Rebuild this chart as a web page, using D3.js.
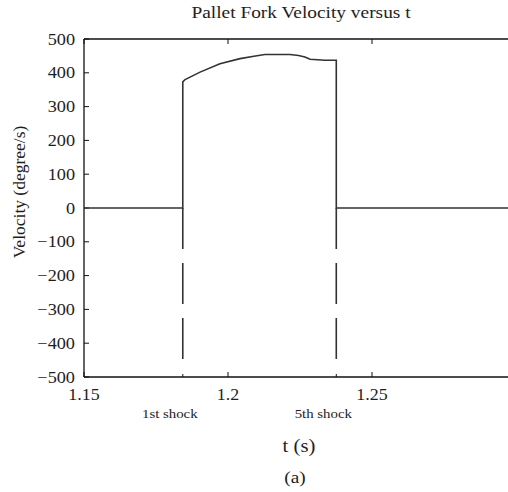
<!DOCTYPE html>
<html>
<head>
<meta charset="utf-8">
<script src="https://cdn.jsdelivr.net/npm/d3@7"></script>
<style>
html,body{margin:0;padding:0;background:#fff;}
svg{display:block;}
text{font-family:"Liberation Serif","DejaVu Serif",serif;fill:#1e1e1e;}
</style>
</head>
<body>
<svg id="chart" width="508" height="492"></svg>
<script>
// Data
const tValues = [1.15, 1.1843, 1.1843, 1.1851, 1.1903, 1.1972, 1.2042, 1.2090, 1.2128, 1.2215, 1.2245, 1.2267, 1.2285, 1.2337, 1.2376, 1.2376, 1.30];
const velocity = [0, 0, 373, 380, 402, 427, 442, 449, 454, 454, 451, 447, 440, 437, 437, 0, 0];
const shockTimes = [1.1843, 1.2376];
const shockLabels = ["1st shock", "5th shock"];
const shockLow = -450;
const xTicks = [1.15, 1.2, 1.25];
const xTickLabels = ["1.15", "1.2", "1.25"];
const yTicks = [-500, -400, -300, -200, -100, 0, 100, 200, 300, 400, 500];
const yTickLabels = ["\u2212500", "\u2212400", "\u2212300", "\u2212200", "\u2212100", "0", "100", "200", "300", "400", "500"];

(function () {
const svg = d3.select("#chart");
const pL = 84, pR = 516, pT = 39, pB = 377;
const x = d3.scaleLinear().domain([1.15, 1.30]).range([pL, pR]);
const y = d3.scaleLinear().domain([-500, 500]).range([pB, pT]);
const ink = "#333";
const axisInk = "#111";

// helper: text stretched horizontally to mimic wider serif face
function label(px, py, str, size, anchor, sx, rot) {
  const g = svg.append("g").attr("transform", `translate(${px},${py})` + (rot ? ` rotate(${rot})` : "") + ` scale(${sx},1)`);
  g.append("text").attr("text-anchor", anchor).attr("font-size", size).text(str);
  return g;
}

// axes lines
svg.append("line").attr("x1", pL).attr("x2", 508).attr("y1", pT).attr("y2", pT).attr("stroke", axisInk).attr("stroke-width", 1.3);
svg.append("line").attr("x1", pL).attr("x2", 508).attr("y1", pB).attr("y2", pB).attr("stroke", axisInk).attr("stroke-width", 1.3);
svg.append("line").attr("x1", pL).attr("x2", pL).attr("y1", pT).attr("y2", pB).attr("stroke", axisInk).attr("stroke-width", 1.3);

// y ticks (inward)
svg.selectAll(".yt").data(yTicks).enter().append("line")
  .attr("x1", pL).attr("x2", pL + 5).attr("y1", d => y(d)).attr("y2", d => y(d))
  .attr("stroke", axisInk).attr("stroke-width", 1);
yTicks.forEach((d, i) => label(pL - 9, y(d) + 5.5, yTickLabels[i], 16, "end", 1.14));

// x ticks (inward, top & bottom)
xTicks.forEach((d, i) => {
  svg.append("line").attr("x1", x(d)).attr("x2", x(d)).attr("y1", pB).attr("y2", pB - 5).attr("stroke", axisInk).attr("stroke-width", 1);
  svg.append("line").attr("x1", x(d)).attr("x2", x(d)).attr("y1", pT).attr("y2", pT + 5).attr("stroke", axisInk).attr("stroke-width", 1);
  label(x(d), pB + 23, xTickLabels[i], 16, "middle", 1.12);
});

// shock ticks, labels, dashed markers
shockTimes.forEach((s, i) => {
  svg.append("line").attr("x1", x(s)).attr("x2", x(s)).attr("y1", pB).attr("y2", pB - 3).attr("stroke", axisInk).attr("stroke-width", 1);
  label(x(s) - 13, pB + 41, shockLabels[i], 13.5, "middle", 1.1);
  svg.append("line").attr("x1", x(s)).attr("x2", x(s)).attr("y1", y(0)).attr("y2", y(shockLow))
    .attr("stroke", ink).attr("stroke-width", 1.6).attr("stroke-dasharray", "41,14");
});

// velocity line
svg.append("clipPath").attr("id", "clip").append("rect").attr("x", pL).attr("y", 0).attr("width", 508 - pL).attr("height", 492);
svg.append("path")
  .datum(tValues.map((t, i) => [t, velocity[i]]))
  .attr("clip-path", "url(#clip)")
  .attr("fill", "none").attr("stroke", ink).attr("stroke-width", 1.6)
  .attr("d", d3.line().x(d => x(d[0])).y(d => y(d[1])));

// title & labels
label(301, 17.5, "Pallet Fork Velocity versus t", 17, "middle", 1.14);
label(299, 452, "t (s)", 18.5, "middle", 1.12);
label(295, 483, "(a)", 17.5, "middle", 1.1);
label(25, 192, "Velocity (degree/s)", 17, "middle", 1.03, -90);
})();
</script>
</body>
</html>
